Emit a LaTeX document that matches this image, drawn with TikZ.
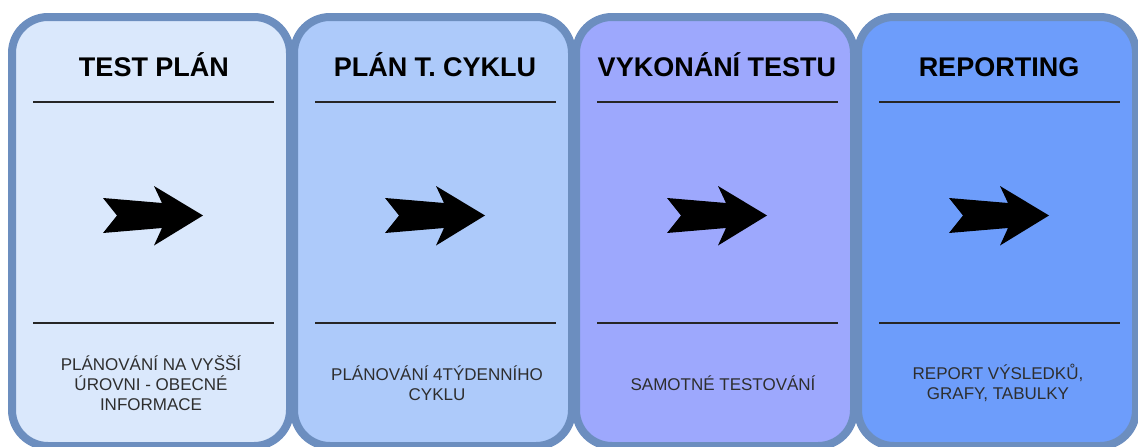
\documentclass[tikz,border=0pt]{standalone}
\usepackage{fontspec}
\setmainfont{Liberation Sans}
\definecolor{bstroke}{HTML}{6C8EBF}
\definecolor{fillA}{HTML}{DAE8FC}
\definecolor{fillB}{HTML}{ADCAFA}
\definecolor{fillC}{HTML}{9DA8FD}
\definecolor{fillD}{HTML}{6D9DFB}
\definecolor{txtgray}{HTML}{2E2E2E}
\begin{document}
\begin{tikzpicture}[x=1pt,y=-1pt,
  stagebox/.style={draw=bstroke,line width=8pt,rounded corners=36pt,minimum width=278pt,minimum height=429pt,inner sep=0pt},
  title/.style={font=\fontsize{27}{30}\selectfont\bfseries,text=black,inner sep=0pt,anchor=base},
  desc/.style={font=\fontsize{17}{20}\selectfont,text=txtgray,align=center,inner sep=0pt},
  sepline/.style={line width=2pt,draw=black!85},
  bigarrow/.style={fill=black}
]
\useasboundingbox (0,0) rectangle (1138,447);
\begin{scope}
\clip (0,0) rectangle (1138,447);
\foreach \i/\col in {0/fillA,1/fillB,2/fillC,3/fillD}{
  \node[stagebox,fill=\col] (box\i) at ({151+282*\i},231.5) {};
}
\end{scope}
\foreach \i in {0,1,2,3}{
  \coordinate (s\i a) at ({33+282*\i},101.5);
  \coordinate (s\i b) at ({274+282*\i},101.5);
  \coordinate (t\i a) at ({33+282*\i},323);
  \coordinate (t\i b) at ({274+282*\i},323);
  \draw[sepline] (s\i a) -- (s\i b);
  \draw[sepline] (t\i a) -- (t\i b);
  \coordinate (ar\i) at ({153+282*\i},215.5);
  \fill[bigarrow,shift={(ar\i)}] (-50,-17.5) -- (9,-12.5) -- (1,-29.5) -- (50,0) -- (1,30) -- (9,12.5) -- (-50,17.5) -- (-36,0) -- cycle;
}
\node[title] (h0) at (154,76.5) {TEST PLÁN};
\node[title] (h1) at (435,76.5) {PLÁN T. CYKLU};
\node[title] (h2) at (717,76.5) {VYKONÁNÍ TESTU};
\node[title] (h3) at (999,76.5) {REPORTING};
\node[desc] (d0) at (151,383) {PLÁNOVÁNÍ NA VYŠŠÍ\\ ÚROVNI - OBECNÉ\\ INFORMACE};
\node[desc] (d1) at (437,383) {PLÁNOVÁNÍ 4TÝDENNÍHO\\ CYKLU};
\node[desc] (d2) at (723,383) {SAMOTNÉ TESTOVÁNÍ};
\node[desc] (d3) at (998,383) {REPORT VÝSLEDKŮ,\\ GRAFY, TABULKY};
\end{tikzpicture}
\end{document}
